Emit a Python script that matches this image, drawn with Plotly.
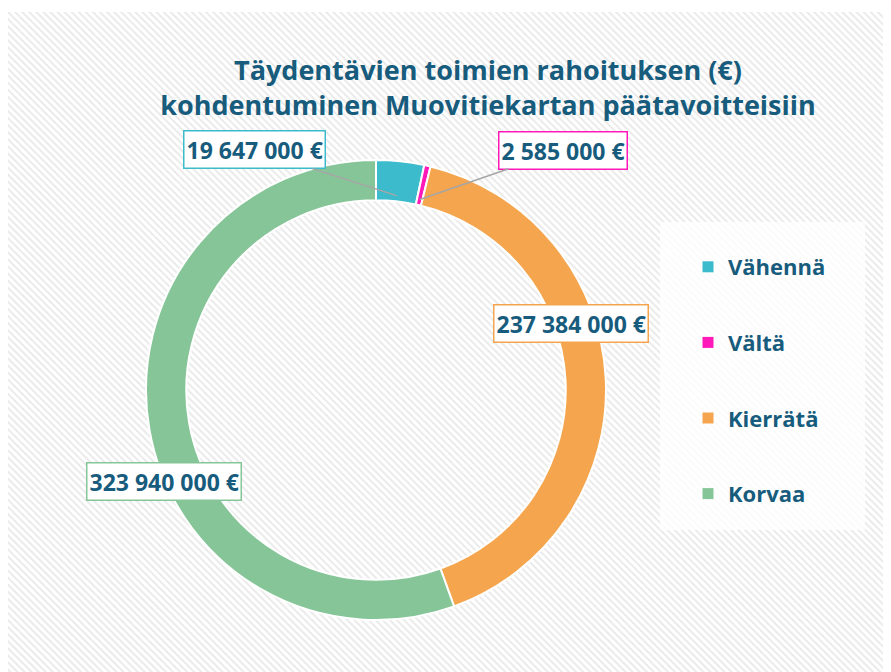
import math
import plotly.graph_objects as go

# ---- data ----
categories = ["Vähennä", "Vältä", "Kierrätä", "Korvaa"]
values = [19647000, 2585000, 237384000, 323940000]
colors = ["#3BBBCB", "#FF19B9", "#F4A54D", "#86C598"]
label_texts = ["19 647 000 €", "2 585 000 €", "237 384 000 €", "323 940 000 €"]
title_text = "Täydentävien toimien rahoituksen (€)<br>kohdentuminen Muovitiekartan päätavoitteisiin"

# ---- layout constants (pixels in the 891x672 window; page body has an 8px margin) ----
OFF = 8
W, H = 891 - OFF, 672 - OFF
CX, CY, R = 376, 390, 230
HOLE = 0.825
TEXT_COLOR = "#175C7D"
FONT = "Open Sans"

def px(xp):
    return max(0.0, (xp - OFF) / W)

def py(yp):
    return 1 - (yp - OFF) / H

fig = go.Figure()

# hatched background
fig.add_trace(go.Bar(
    x=[0], y=[1], width=[1],
    marker=dict(color="white", line=dict(width=0),
                pattern=dict(shape="\\", fgcolor="#D3D3D3", bgcolor="white",
                             size=5, solidity=0.38)),
    hoverinfo="skip", showlegend=False,
))

# donut
fig.add_trace(go.Pie(
    labels=categories, values=values,
    marker=dict(colors=colors, line=dict(color="white", width=2)),
    hole=HOLE, sort=False, direction="clockwise", rotation=0,
    textinfo="none", showlegend=False,
    domain=dict(x=[px(CX - R), px(CX + R)], y=[py(CY + R), py(CY - R)]),
))

# legend entries
for i, (c, col) in enumerate(zip(categories, colors)):
    fig.add_trace(go.Scatter(
        x=[None], y=[None], mode="markers", name=c,
        marker=dict(symbol="square", size=11, color=col),
        legendgroup=f"g{i}", showlegend=True,
    ))

# data labels
total = sum(values)
cum = 0
mids = []
for v in values:
    mids.append((cum + v / 2) / total)
    cum += v

label_pos = [(254, 150), (563, 150), (571, 324), (164, 481)]
leader = [True, True, False, False]
annotations = []
for i in range(len(values)):
    lx, ly = label_pos[i]
    common = dict(text=f"<b>{label_texts[i]}</b>", font=dict(family=FONT, size=23, color=TEXT_COLOR),
                  bgcolor="white", bordercolor=colors[i], borderwidth=1.5, borderpad=2,
                  xref="paper", yref="paper")
    if leader[i]:
        th = 2 * math.pi * mids[i]
        r = 0.85 * R
        tx = CX + r * math.sin(th)
        ty = CY - r * math.cos(th)
        annotations.append(dict(x=px(tx), y=py(ty), ax=lx - tx, ay=ly - ty,
                                showarrow=True, arrowhead=0, arrowwidth=1.5,
                                arrowcolor="#A6A6A6", standoff=0, **common))
    else:
        annotations.append(dict(x=px(lx), y=py(ly), showarrow=False,
                                xanchor="center", yanchor="middle", **common))

fig.update_layout(
    width=W, height=H,
    margin=dict(l=0, r=0, t=0, b=0),
    paper_bgcolor="white", plot_bgcolor="white",
    bargap=0,
    xaxis=dict(domain=[px(7), 1], range=[-0.5, 0.5], visible=False, fixedrange=True),
    yaxis=dict(domain=[0, py(12)], range=[0, 1], visible=False, fixedrange=True),
    title=dict(text=f"<b>{title_text}</b>", x=px(488), xanchor="center",
               y=py(80), yanchor="middle",
               font=dict(family=FONT, size=27, color=TEXT_COLOR)),
    legend=dict(x=px(688), y=py(246), xanchor="left", yanchor="top",
                bgcolor="rgba(0,0,0,0)", borderwidth=0,
                font=dict(family=FONT, size=22, color=TEXT_COLOR, weight="bold"),
                tracegroupgap=44, itemwidth=30),
    annotations=annotations,
    shapes=[dict(type="rect", xref="paper", yref="paper",
                 x0=px(660), x1=px(865), y0=py(530), y1=py(222),
                 fillcolor="rgba(255,255,255,0.8)", line=dict(width=0), layer="above")],
    showlegend=True,
)

fig.write_html("out.html")
